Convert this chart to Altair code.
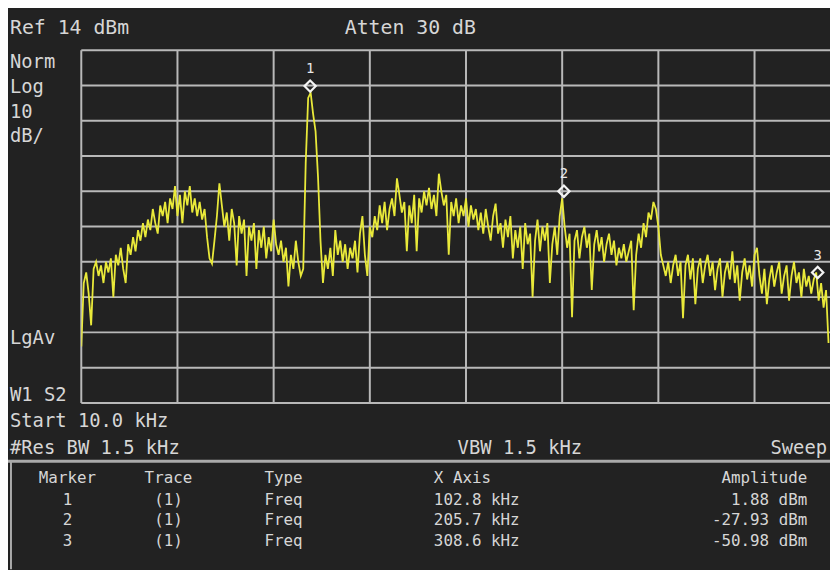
import altair as alt
import pandas as pd

sweep_start_khz = 10.0
sweep_step_khz = 1.0
trace_dbm = [
    -70, -52, -49, -55, -64, -48, -46, -50, -47, -52,
    -46, -49, -45, -56, -44, -47, -42, -48, -52, -41,
    -44, -39, -43, -37, -40, -35, -39, -34, -37, -31,
    -35, -38, -30, -33, -29, -35, -28, -31, -24.5, -33,
    -27, -35, -26, -30, -24.5, -32, -28, -33, -29, -34,
    -31, -39, -45, -46.5, -40, -33, -23.7, -30, -36, -32,
    -40, -31, -35, -47, -33, -38, -34, -50, -36, -40,
    -35, -48, -37, -42, -36, -45, -39, -43, -34, -41,
    -44, -40, -46, -42, -53, -44, -48, -40, -46, -50,
    -48, -18, 0.5, 2.0, -4, -9, -22, -40, -52, -44,
    -48, -42, -50, -37, -44, -40, -46, -41, -48, -42,
    -45, -40, -49, -38, -33, -44, -50, -36, -39, -33,
    -37, -30, -35, -29, -37, -31, -28, -33, -22.3, -27,
    -32, -29, -43, -30, -35, -27, -43, -28, -32, -26,
    -30, -25, -31, -27, -33, -21, -26, -30, -27, -44,
    -29, -33, -28, -35, -30, -33, -28, -36, -30, -34,
    -31, -37, -32, -38, -31, -36, -40, -33, -29.5, -38,
    -35, -42, -34, -39, -33, -45, -37, -42, -36, -48,
    -35, -41, -38, -56, -40, -34, -43, -36, -40, -35,
    -52, -41, -36, -44, -33, -28, -36, -42, -38, -61.7,
    -40, -37, -45, -39, -36, -42, -38, -54, -41, -37,
    -43, -39, -46, -41, -38, -44, -40, -47, -42, -45,
    -41, -46, -43, -40, -59.7, -44, -38, -42, -35, -39,
    -32, -34, -29, -31, -36, -44, -47, -50, -46, -52,
    -47, -44, -50, -46, -62, -47, -44, -51, -45, -58,
    -48, -45, -52, -47, -44, -50, -46, -54, -48, -45,
    -56, -49, -46, -51, -43, -52, -47, -57, -49, -45,
    -51, -47, -53, -44, -42, -50, -55, -48, -58, -51,
    -47, -53, -49, -46, -55, -50, -47, -57, -50, -46,
    -52, -49, -56, -48, -53, -50, -55, -51, -49, -57,
    -52, -59, -54, -69,
]

marker_ids = ["1", "2", "3"]
marker_trace = ["(1)", "(1)", "(1)"]
marker_type = ["Freq", "Freq", "Freq"]
marker_freq_khz = [102.8, 205.7, 308.6]
marker_amp_dbm = [1.88, -27.93, -50.98]

ref_level_dbm = 14
scale_db_per_div = 10
n_divs_y = 10
khz_per_div = 39
visible_stop_khz = 313.6

top_texts = ["Ref 14 dBm", "Atten 30 dB"]
side_texts = ["Norm", "Log", "10", "dB/"]
lower_side_texts = ["LgAv", "W1 S2"]
bottom_texts = ["Start 10.0 kHz", "#Res BW 1.5 kHz", "VBW 1.5 kHz", "Sweep"]
table_headers = ["Marker", "Trace", "Type", "X Axis", "Amplitude"]

# ---------------- styles ----------------
BG = "#222222"
GRID = "#b9b9b9"
TRACE = "#e9e93a"
TXT = "#d6d6d6"
FONT = "DejaVu Sans Mono"

freqs = [sweep_start_khz + i * sweep_step_khz for i in range(len(trace_dbm))]
df = pd.DataFrame({"f": freqs, "a": trace_dbm})
mk = pd.DataFrame({"f": marker_freq_khz, "a": marker_amp_dbm, "id": marker_ids})

bottom_dbm = ref_level_dbm - scale_db_per_div * n_divs_y
y_grid = [ref_level_dbm - scale_db_per_div * k for k in range(n_divs_y + 1)]
x_grid = [sweep_start_khz + khz_per_div * k for k in range(8)]

xs = alt.Scale(domain=[sweep_start_khz, visible_stop_khz], nice=False, zero=False)
ys = alt.Scale(domain=[bottom_dbm, ref_level_dbm], nice=False, zero=False)

hgrid = alt.Chart(pd.DataFrame({"a": y_grid})).mark_rule(color=GRID, strokeWidth=2).encode(
    y=alt.Y("a:Q", scale=ys, axis=None))
vgrid = alt.Chart(pd.DataFrame({"f": x_grid})).mark_rule(color=GRID, strokeWidth=2).encode(
    x=alt.X("f:Q", scale=xs, axis=None))

trace = alt.Chart(df).mark_line(color=TRACE, strokeWidth=1.8, clip=True).encode(
    x=alt.X("f:Q", scale=xs, axis=None),
    y=alt.Y("a:Q", scale=ys, axis=None),
)

diamonds = alt.Chart(mk).mark_point(shape="diamond", filled=False, color="#f4f4f4",
                                    strokeWidth=2.2, size=130, yOffset=-7, opacity=1).encode(
    x=alt.X("f:Q", scale=xs, axis=None), y=alt.Y("a:Q", scale=ys, axis=None))

mk_labels = alt.Chart(mk).mark_text(font=FONT, fontSize=14, color="#e8e8e8",
                                    yOffset=-24, baseline="middle").encode(
    x=alt.X("f:Q", scale=xs, axis=None), y=alt.Y("a:Q", scale=ys, axis=None), text="id:N")

# plot origin in page: (82, 48)
OX, OY = 82, 48


def txt(s, x, y, size=19, align="left"):
    return alt.Chart(alt.Data(values=[{}])).mark_text(
        text=s, align=align, baseline="alphabetic", font=FONT, fontSize=size, color=TXT
    ).encode(x=alt.value(x - OX), y=alt.value(y - OY))


def rule(x1, y1, x2, y2, w=2, color=GRID):
    return alt.Chart(alt.Data(values=[{}])).mark_rule(color=color, strokeWidth=w).encode(
        x=alt.value(x1 - OX), x2=alt.value(x2 - OX), y=alt.value(y1 - OY), y2=alt.value(y2 - OY))


layers = [hgrid, vgrid, trace, diamonds, mk_labels]

layers += [txt(top_texts[0], 10, 32, 20), txt(top_texts[1], 348, 32, 20)]
for i, s in enumerate(side_texts):
    layers.append(txt(s, 10, 66 + 25 * i))
layers.append(txt(lower_side_texts[0], 10, 345))
layers.append(txt(lower_side_texts[1], 10, 402))
layers.append(txt(bottom_texts[0], 10, 428))
layers.append(txt(bottom_texts[1], 10, 456))
layers.append(txt(bottom_texts[2], 462, 456))
layers.append(txt(bottom_texts[3], 835, 456, 19, "right"))

# table frame
layers.append(rule(8, 463, 838, 463, w=3, color="#aaaaaa"))
layers.append(rule(11, 463, 11, 572, w=2, color="#aaaaaa"))

# table header
TS = 16
hdr_y = 485
layers.append(txt(table_headers[0], 68, hdr_y, TS, "center"))
layers.append(txt(table_headers[1], 170, hdr_y, TS, "center"))
layers.append(txt(table_headers[2], 267, hdr_y, TS, "left"))
layers.append(txt(table_headers[3], 438, hdr_y, TS, "left"))
layers.append(txt(table_headers[4], 815, hdr_y, TS, "right"))

row_y = [507, 527, 548]
for i in range(3):
    yy = row_y[i]
    layers.append(txt(marker_ids[i], 68, yy, TS, "center"))
    layers.append(txt(marker_trace[i], 170, yy, TS, "center"))
    layers.append(txt(marker_type[i], 267, yy, TS, "left"))
    layers.append(txt(f"{marker_freq_khz[i]:.1f} kHz", 438, yy, TS, "left"))
    layers.append(txt(f"{marker_amp_dbm[i]:.2f} dBm", 815, yy, TS, "right"))

chart = alt.layer(*layers).properties(
    width=756, height=356,
    padding={"left": 74, "top": 40, "right": 0, "bottom": 166},
    autosize=alt.AutoSizeParams(type="none"),
).configure(background=BG).configure_view(stroke=None)

chart.save("out.html", embed_options={"renderer": "svg", "actions": False})
